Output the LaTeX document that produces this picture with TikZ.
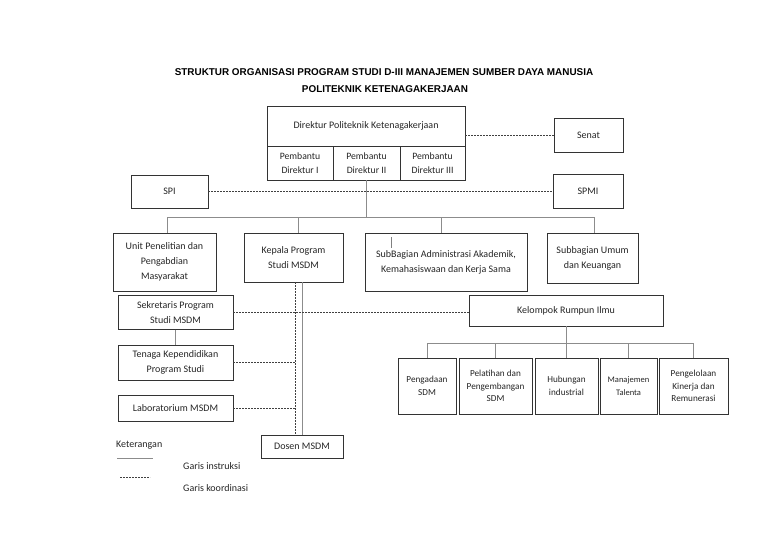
\documentclass[tikz,border=0pt]{standalone}
\usepackage{fontspec}
\setmainfont{Carlito}
\newfontfamily\titlefont{Liberation Sans}
\begin{document}
\begin{tikzpicture}[x=1pt,y=-1pt]
\tikzset{
 bx/.style={draw=black!80, line width=0.8pt, inner sep=1pt, outer sep=0pt, align=center,
   font=\fontsize{10}{15}\selectfont, text=black!85},
 pb/.style={font=\fontsize{9.7}{14}\selectfont},
 kr/.style={font=\fontsize{9.2}{12.5}\selectfont},
 inst/.style={draw=black!45, line width=0.7pt},
 koor/.style={draw=black!75, line width=0.8pt, dash pattern=on 2pt off 1pt},
 ttl/.style={font=\titlefont\bfseries\fontsize{9.9}{12}\selectfont, text=black},
 lg/.style={anchor=west, font=\fontsize{10}{12}\selectfont, text=black!85, inner sep=0pt},
}
\useasboundingbox (0,0) rectangle (768,543);
\fill[white] (0,0) rectangle (768,543);

% title
\node[ttl] (t1) at (384,72) {STRUKTUR ORGANISASI PROGRAM STUDI D-III MANAJEMEN SUMBER DAYA MANUSIA};
\node[ttl] (t2) at (385,89) {POLITEKNIK KETENAGAKERJAAN};

% top
\node[bx, minimum width=198, minimum height=40] (dir) at (366,126) {Direktur Politeknik Ketenagakerjaan};
\node[bx, pb, minimum width=66, minimum height=34] (p1) at (300,163) {Pembantu\\Direktur I};
\node[bx, pb, minimum width=67, minimum height=34] (p2) at (366.5,163) {Pembantu\\Direktur II};
\node[bx, pb, minimum width=65, minimum height=34] (p3) at (432.5,163) {Pembantu\\Direktur III};
\node[bx, minimum width=69, minimum height=34] (senat) at (588.5,135) {Senat};
\node[bx, minimum width=70, minimum height=34] (spmi) at (588,191) {SPMI};
\node[bx, minimum width=77, minimum height=33] (spi) at (169.5,191.5) {SPI};

\draw[koor] (dir.east |- senat.west) -- (senat.west);
\draw[koor] (spi.east) -- (spi.east -| spmi.west);

% level 3
\node[bx, minimum width=103, minimum height=58] (unit) at (164.5,262) {Unit Penelitian dan\\Pengabdian\\Masyarakat};
\node[bx, minimum width=99, minimum height=49] (kep) at (293.5,257.5) {Kepala Program\\Studi MSDM};
\node[bx, minimum width=162, minimum height=58] (sub) at (446,262) {SubBagian Administrasi Akademik,\\Kemahasiswaan dan Kerja Sama};
\node[bx, minimum width=91, minimum height=50] (umum) at (592.5,258) {Subbagian Umum\\dan Keuangan};
\draw[black!50, line width=0.5pt] (391,237) -- (391,248);

\coordinate (b1) at (167,217);
\coordinate (b2) at (298,217);
\coordinate (b3) at (441,217);
\coordinate (b4) at (594,217);
\draw[inst] (p2.south) -- (p2.south |- b1);
\draw[inst] (b1) -- (b4);
\draw[inst] (b1) -- (b1 |- unit.north);
\draw[inst] (b2) -- (b2 |- kep.north);
\draw[inst] (b3) -- (b3 |- sub.north);
\draw[inst] (b4) -- (b4 |- umum.north);

% left column
\node[bx, minimum width=115, minimum height=34] (sek) at (175.5,312.5) {Sekretaris Program\\Studi MSDM};
\node[bx, minimum width=115, minimum height=35] (ten) at (175.5,362.5) {Tenaga Kependidikan\\Program Studi};
\node[bx, minimum width=115, minimum height=26] (lab) at (175.5,408) {Laboratorium MSDM};
\node[bx, minimum width=82, minimum height=23] (dosen) at (302,446.5) {Dosen MSDM};
\node[bx, minimum width=194, minimum height=31] (kel) at (566,310.5) {Kelompok Rumpun Ilmu};

\coordinate (dl) at (295,300);
\coordinate (sl) at (302,300);
\draw[koor] (dl |- kep.south) -- (dl |- dosen.north);
\draw[inst] (sl |- kep.south) -- (sl |- dosen.north);
\draw[inst] (sek.south) -- (ten.north);
\draw[koor] (sek.east) -- (sek.east -| kel.west);
\draw[koor] (ten.east) -- (ten.east -| dl);
\draw[koor] (lab.east) -- (lab.east -| dl);

% rumpun ilmu
\node[bx, kr, minimum width=58, minimum height=56] (c1) at (427,386) {Pengadaan\\SDM};
\node[bx, kr, minimum width=73, minimum height=56] (c2) at (495.5,386) {Pelatihan dan\\Pengembangan\\SDM};
\node[bx, kr, minimum width=63, minimum height=56] (c3) at (566.5,386) {Hubungan\\industrial};
\node[bx, kr, font=\fontsize{8.5}{12.5}\selectfont, minimum width=57, minimum height=56] (c4) at (628.5,386) {Manajemen\\Talenta};
\node[bx, kr, minimum width=69, minimum height=56] (c5) at (693.5,386) {Pengelolaan\\Kinerja dan\\Remunerasi};

\coordinate (kb) at (566,343);
\draw[inst] (kel.south) -- (kb);
\draw[inst] (c1.north |- kb) -- (c5.north |- kb);
\foreach \c in {c1,c2,c3,c4,c5} \draw[inst] (\c.north |- kb) -- (\c.north);

% legend
\node[lg] (ket) at (116,445) {Keterangan};
\coordinate (la) at (117,458);
\coordinate (lb) at (153,458);
\draw[inst] (la) -- (lb);
\node[lg] (gi) at (183,466) {Garis instruksi};
\coordinate (lc) at (120,477);
\coordinate (ld) at (150,477);
\draw[koor] (lc) -- (ld);
\node[lg] (gk) at (183,488) {Garis koordinasi};
\end{tikzpicture}
\end{document}
